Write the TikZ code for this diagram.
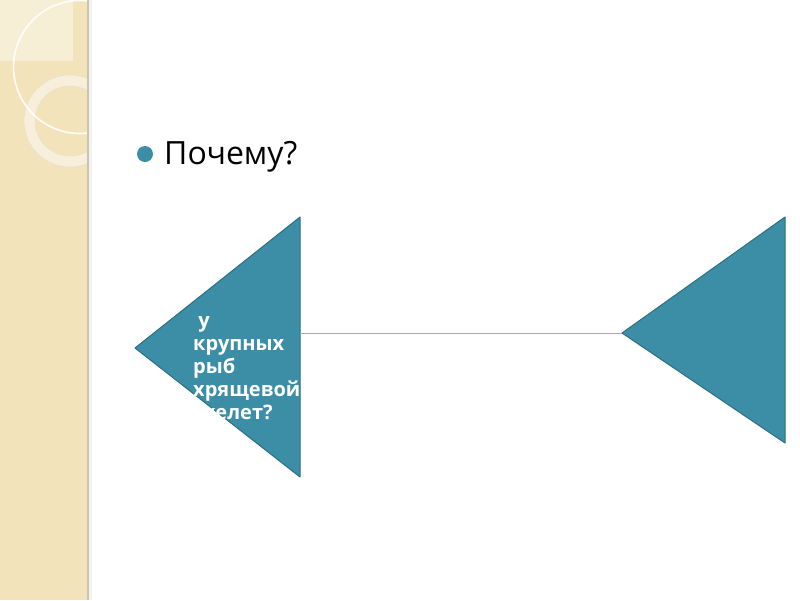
\documentclass[tikz,border=0pt]{standalone}
\usepackage{fontspec}
\setmainfont{Open Sans}
\definecolor{beige}{RGB}{242,227,187}
\definecolor{beigelight}{RGB}{247,238,214}
\definecolor{edge}{RGB}{205,196,176}
\definecolor{teal}{RGB}{59,142,165}
\definecolor{tealdark}{RGB}{45,110,128}
\definecolor{linkc}{RGB}{130,185,200}
\tikzset{
  tri/.style={fill=teal,draw=tealdark,line width=1pt,line join=round},
  link/.style={draw=linkc,line width=1pt},
  tritext/.style={text=white,font=\bfseries\fontsize{20}{23}\selectfont,align=left,anchor=base west,inner sep=0pt}
}
\begin{document}
\begin{tikzpicture}[x=1pt,y=-1pt]
\useasboundingbox (0,0) rectangle (800,600);
\fill[white] (0,0) rectangle (800,600);
% side stripe
\fill[beige] (0,0) rectangle (88,600);
\begin{scope}
\clip (0,0) rectangle (88,600);
\fill[beigelight] (0,0) rectangle (73,61);
\fill[white,opacity=0.45,even odd rule] (70,121) circle (46) (70,121) circle (35);
\draw[black!15,opacity=0.5,line width=0.6pt] (70,121) circle (46) (70,121) circle (35);
\draw[white,opacity=0.9,line width=1.6pt] (80,67) circle (66.5);
\end{scope}
\draw[edge,line width=1.2pt] (88,0) -- (88,600);
\fill[black,opacity=0.05] (89,0) rectangle (92,600);
% bullet and title
\fill[teal] (145,154) circle (8);
\node[anchor=base west,inner sep=0pt,font=\fontsize{32}{36}\selectfont] (title) at (164,164) {Почему?};
% triangles
\coordinate (lt) at (300,217);
\coordinate (lb) at (300,477);
\coordinate (ll) at (135,348);
\coordinate (rt) at (785,217);
\coordinate (rb) at (785,443);
\coordinate (rl) at (622,333);
\path[tri] (lt) -- (lb) -- (ll) -- cycle;
\path[tri] (rt) -- (rb) -- (rl) -- cycle;
\draw[link] (300,333) -- (rl);
\node[tritext] (txt) at (193,419) {\ у\\крупных\\рыб\\хрящевой\\скелет?};
\end{tikzpicture}
\end{document}
